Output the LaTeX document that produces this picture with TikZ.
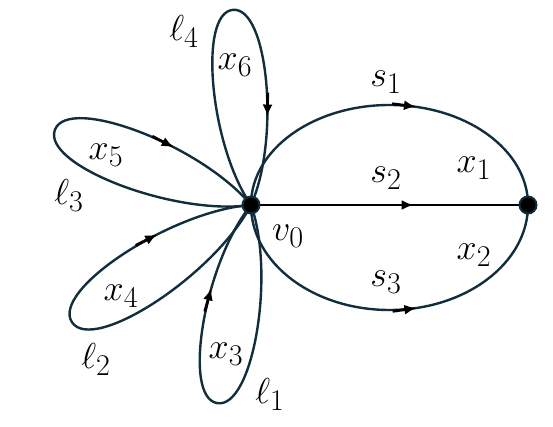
\documentclass[tikz,border=0pt]{standalone}
\usepackage{amsmath}
\usetikzlibrary{arrows.meta,decorations.markings,backgrounds}
\definecolor{arista}{RGB}{18,46,60}
\newcommand{\etiq}[1]{\scalebox{1.45}{\fontsize{24.88}{28}\selectfont$#1$}}

\begin{document}
\begin{tikzpicture}[x=1pt,y=1pt,
  vertice/.style={circle,fill=black,draw=arista,line width=2pt,inner sep=0pt,minimum size=17pt},
  lado/.style={draw=arista,line width=2.4pt},
  flecha/.style={postaction={decorate,decoration={markings,mark=at position #1 with
    {\draw[black,line width=2.8pt,-{Latex[length=12pt,width=10pt]}] (-22pt,0)--(2pt,0);}}}},
  etq/.style={inner sep=0pt}]
  \useasboundingbox (0,0) rectangle (553,-427);
  % vertices
  \node[vertice] (v0) at (251,-205) {};
  \node[vertice] (v1) at (528,-205) {};
  \begin{scope}[on background layer]
    % aristas s_1, s_2, s_3
    \draw[lado,flecha=0.565] (v0.center) arc[start angle=180,end angle=0,x radius=138.5,y radius=100];
    \draw[lado,draw=black,flecha=0.58] (v0.center)--(v1.center);
    \draw[lado,flecha=0.565] (v0.center) arc[start angle=180,end angle=360,x radius=138.5,y radius=105];
    % lazos l_1 ... l_4
    \foreach \a/\L in {95.3/196,159/210,213.2/214,260.3/201}{
      \begin{scope}[shift={(v0.center)},rotate=\a]
        \draw[lado,flecha=0.78] (0,0) .. controls ({0.32*\L},{0.18*\L}) and ({\L},{0.18*\L}) .. (\L,0)
          .. controls ({\L},{-0.18*\L}) and ({0.32*\L},{-0.18*\L}) .. (0,0);
      \end{scope}}
  \end{scope}
  % etiquetas
  \node[etq] (lv0) at (288,-236) {\etiq{v_0}};
  \node[etq] (ls1) at (386,-82) {\etiq{s_1}};
  \node[etq] (ls2) at (386,-178) {\etiq{s_2}};
  \node[etq] (ls3) at (386,-282) {\etiq{s_3}};
  \node[etq] (lx1) at (474,-168) {\etiq{x_1}};
  \node[etq] (lx2) at (474,-255) {\etiq{x_2}};
  \node[etq] (lx3) at (226,-354) {\etiq{x_3}};
  \node[etq] (lx4) at (121,-296) {\etiq{x_4}};
  \node[etq] (lx5) at (106,-155) {\etiq{x_5}};
  \node[etq] (lx6) at (235,-65) {\etiq{x_6}};
  \node[etq] (ll1) at (270,-394) {\etiq{\ell_1}};
  \node[etq] (ll2) at (96,-359) {\etiq{\ell_2}};
  \node[etq] (ll3) at (69,-195) {\etiq{\ell_3}};
  \node[etq] (ll4) at (184,-31) {\etiq{\ell_4}};
\end{tikzpicture}
\end{document}
